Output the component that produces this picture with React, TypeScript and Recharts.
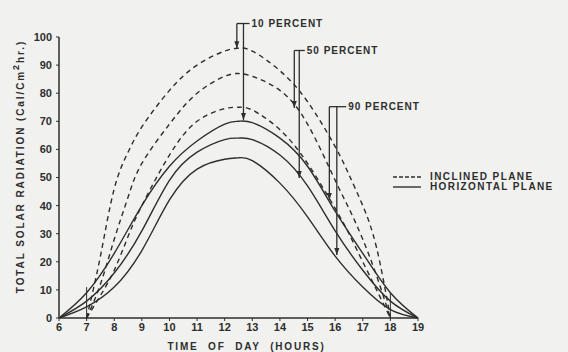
import React from 'react';
import { LineChart, Line, XAxis, YAxis, ReferenceLine } from 'recharts';

// ---- data ----
const inclinedHours = [7, 7.5, 8, 8.5, 9, 10, 11, 12, 12.5, 13, 14, 15, 16, 16.5, 17, 17.5, 18];
const inclined10 = [0, 22, 46, 59, 68, 81, 90, 95, 96, 95, 88, 77, 61, 51, 40, 25, 0];
const inclined50 = [0, 12, 28, 43, 55, 69, 80, 86, 87, 86, 81, 69, 49, 39, 28, 15, 0];
const inclined90 = [0, 8, 17, 29, 40, 58, 70, 74.5, 75, 74, 67, 55, 39, 30, 20, 10, 0];

const horizontalHours = [6, 7, 8, 9, 10, 11, 12, 12.5, 13, 14, 15, 16, 17, 18, 19];
const horizontal10 = [0, 9, 23, 40, 54, 63, 69, 70, 69.5, 64, 54, 38, 23, 9, 0];
const horizontal50 = [0, 6, 16, 31, 49, 59, 63.5, 64, 63.5, 58, 47, 31, 17, 6, 0];
const horizontal90 = [0, 4, 11, 24, 42, 53, 56.5, 57, 56, 48, 36, 22, 11, 3, 0];

const xTicks = [6, 7, 8, 9, 10, 11, 12, 13, 14, 15, 16, 17, 18, 19];
const yTicks = [0, 10, 20, 30, 40, 50, 60, 70, 80, 90, 100];

const percentLabels = ['10 PERCENT', '50 PERCENT', '90 PERCENT'];
const arrowLeftHour = [12.44, 14.52, 15.79];
const arrowRightHour = [12.68, 14.7, 16.06];
const arrowTopValue = [104.8, 95.2, 75.2];
const arrowInclinedTip = [96, 74.7, 42];
const arrowHorizontalTip = [70.5, 49.8, 22.4];
const labelHour = [12.9, 14.9, 16.4];

const legendLabels = ['INCLINED PLANE', 'HORIZONTAL PLANE'];
const xAxisTitle = 'TIME OF DAY (HOURS)';

const INK = '#2e2e2e';
const FONT = '"Liberation Sans", Arial, sans-serif';

const toPoints = (hours: number[], values: number[]) =>
  hours.map((t, i) => ({ t, v: values[i] }));

const ArrowShape = (props: any) => {
  const { x1, y1, y2 } = props;
  const tipY = Math.max(y1, y2);
  const topY = Math.min(y1, y2);
  const x = x1;
  return (
    <g>
      <line x1={x} y1={topY} x2={x} y2={tipY} stroke={INK} strokeWidth={1.3} />
      <polygon points={`${x},${tipY} ${x - 2.5},${tipY - 7} ${x + 2.5},${tipY - 7}`} fill={INK} />
    </g>
  );
};

const makeBarShape = (text: string) => (props: any) => {
  const { x1, y1, x2 } = props;
  const left = Math.min(x1, x2);
  const right = Math.max(x1, x2);
  return (
    <g>
      <line x1={left} y1={y1} x2={right} y2={y1} stroke={INK} strokeWidth={1.3} />
      <text
        x={right + 2}
        y={y1}
        dominantBaseline="central"
        fontFamily={FONT}
        fontWeight="bold"
        fontSize={10}
        letterSpacing={1}
        fill={INK}
      >
        {text}
      </text>
    </g>
  );
};

const YTitle = (props: any) => {
  const vb = props.viewBox || { x: 0, y: 37, width: 59, height: 281 };
  const cx = vb.x + 20;
  const cy = vb.y + vb.height / 2 - 11;
  return (
    <text
      transform={`translate(${cx},${cy}) rotate(-90)`}
      textAnchor="middle"
      dominantBaseline="central"
      fontFamily={FONT}
      fontWeight="bold"
      fontSize={10}
      letterSpacing={1.9}
      fill={INK}
    >
      TOTAL SOLAR RADIATION (Cal/Cm
      <tspan dy={-4} fontSize={9}>2</tspan>
      <tspan dy={4}>hr.)</tspan>
    </text>
  );
};

const XTitle = (props: any) => {
  const vb = props.viewBox || { x: 59, y: 318, width: 359, height: 34 };
  return (
    <text
      x={vb.x + vb.width / 2 + 8}
      y={vb.y + 28}
      textAnchor="middle"
      dominantBaseline="central"
      fontFamily={FONT}
      fontWeight="bold"
      fontSize={10}
      letterSpacing={1.8}
      wordSpacing={5}
      fill={INK}
    >
      {xAxisTitle}
    </text>
  );
};

const tickStyle = { fontFamily: FONT, fontSize: 11, fontWeight: 'bold', fill: INK } as const;

export default function App() {
  const series = [
    { key: 'i10', data: toPoints(inclinedHours, inclined10), dashed: true },
    { key: 'i50', data: toPoints(inclinedHours, inclined50), dashed: true },
    { key: 'i90', data: toPoints(inclinedHours, inclined90), dashed: true },
    { key: 'h10', data: toPoints(horizontalHours, horizontal10), dashed: false },
    { key: 'h50', data: toPoints(horizontalHours, horizontal50), dashed: false },
    { key: 'h90', data: toPoints(horizontalHours, horizontal90), dashed: false },
  ];

  return (
    <div
      style={{
        position: 'absolute',
        left: 0,
        top: 0,
        width: 568,
        height: 352,
        background: '#f1f1ef',
        overflow: 'hidden',
      }}
    >
      <LineChart width={568} height={352} margin={{ top: 37, right: 150, bottom: 0, left: 0 }}>
        <XAxis
          type="number"
          dataKey="t"
          domain={[6, 19]}
          ticks={xTicks}
          interval={0}
          allowDuplicatedCategory={false}
          height={34}
          tickSize={3}
          tickMargin={2}
          tick={tickStyle}
          stroke={INK}
          axisLine={{ stroke: INK, strokeWidth: 1.5 }}
          tickLine={{ stroke: INK }}
          label={<XTitle />}
        />
        <YAxis
          type="number"
          dataKey="v"
          domain={[0, 100]}
          ticks={yTicks}
          interval={0}
          width={59}
          tickSize={3}
          tickMargin={4}
          tick={tickStyle}
          stroke={INK}
          axisLine={{ stroke: INK, strokeWidth: 1.5 }}
          tickLine={{ stroke: INK }}
          label={<YTitle />}
        />
        {series.map((s) => (
          <Line
            key={s.key}
            data={s.data}
            dataKey="v"
            type="natural"
            stroke={INK}
            strokeWidth={1.4}
            strokeDasharray={s.dashed ? '5 4' : undefined}
            dot={false}
            activeDot={false}
            isAnimationActive={false}
          />
        ))}
        <ReferenceLine
          segment={[{ x: 7, y: 0 }, { x: 7, y: 11 }]}
          stroke={INK}
          strokeWidth={1}
          ifOverflow="visible"
        />
        <ReferenceLine
          segment={[{ x: 18, y: 0 }, { x: 18, y: 9 }]}
          stroke={INK}
          strokeWidth={1}
          ifOverflow="visible"
        />
        {percentLabels.map((lab, i) => (
          <ReferenceLine
            key={`bar-${i}`}
            segment={[
              { x: arrowLeftHour[i], y: arrowTopValue[i] },
              { x: labelHour[i], y: arrowTopValue[i] },
            ]}
            ifOverflow="visible"
            shape={makeBarShape(lab)}
          />
        ))}
        {percentLabels.map((lab, i) => (
          <ReferenceLine
            key={`al-${i}`}
            segment={[
              { x: arrowLeftHour[i], y: arrowTopValue[i] },
              { x: arrowLeftHour[i], y: arrowInclinedTip[i] },
            ]}
            ifOverflow="visible"
            shape={ArrowShape}
          />
        ))}
        {percentLabels.map((lab, i) => (
          <ReferenceLine
            key={`ar-${i}`}
            segment={[
              { x: arrowRightHour[i], y: arrowTopValue[i] },
              { x: arrowRightHour[i], y: arrowHorizontalTip[i] },
            ]}
            ifOverflow="visible"
            shape={ArrowShape}
          />
        ))}
      </LineChart>
      <div
        style={{
          position: 'absolute',
          left: 393,
          top: 172,
          fontFamily: FONT,
          fontWeight: 'bold',
          fontSize: 10,
          letterSpacing: 1.4,
          color: INK,
          lineHeight: '10px',
        }}
      >
        {legendLabels.map((lab, i) => (
          <div key={lab} style={{ display: 'flex', alignItems: 'center', height: 10 }}>
            <svg width={30} height={10} style={{ marginRight: 7 }}>
              <line
                x1={0}
                y1={5}
                x2={28}
                y2={5}
                stroke={INK}
                strokeWidth={1.4}
                strokeDasharray={i === 0 ? '4 2' : undefined}
              />
            </svg>
            <span style={{ whiteSpace: 'nowrap' }}>{lab}</span>
          </div>
        ))}
      </div>
    </div>
  );
}
